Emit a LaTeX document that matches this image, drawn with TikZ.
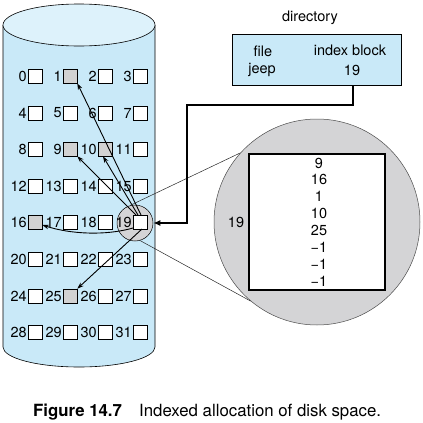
\documentclass[tikz,border=0pt]{standalone}
\usepackage{fontspec}
\setmainfont{TeX Gyre Heros}
\usetikzlibrary{arrows.meta}
\definecolor{cylblue}{HTML}{C9E9F8}
\definecolor{topblue}{HTML}{DDF2FB}
\definecolor{blkgray}{HTML}{D2D2D2}
\definecolor{circgray}{HTML}{D4D4D6}
\begin{document}
\begin{tikzpicture}[x=1pt,y=-1pt,
  font=\fontsize{14.5}{17}\selectfont,
  blk/.style={draw, line width=0.6pt, minimum size=14pt, inner sep=0pt},
  lbl/.style={inner sep=0.8pt, anchor=east},
  txt/.style={inner sep=0pt},
  ptr/.style={-{Stealth[length=6.5pt,width=4.5pt]}, line width=0.9pt},
  zoomline/.style={line width=0.5pt, draw=black!85}]
\useasboundingbox (0,0) rectangle (423,423);
% cylinder
\fill[cylblue] (3,25) -- (3,347) arc[start angle=180,end angle=0,x radius=76,y radius=20] -- (155,25) -- cycle;
\draw[line width=0.6pt] (3,25) -- (3,347) arc[start angle=180,end angle=0,x radius=76,y radius=20] -- (155,25);
\draw[line width=0.6pt, fill=topblue] (79,25) ellipse[x radius=76, y radius=21];
% small circle
\node[circle, draw, line width=0.5pt, fill=circgray, minimum size=36pt, inner sep=0pt] (sc) at (135,223) {};
% blocks
\foreach \r/\y in {0/76,1/113,2/149,3/186,4/222,5/259,6/296,7/332}{
  \foreach \c/\x in {0/35,1/70,2/105,3/140}{
    \pgfmathtruncatemacro\n{4*\r+\c}
    \pgfmathtruncatemacro\isg{(\n==1)||(\n==9)||(\n==10)||(\n==16)||(\n==25)}
    \ifnum\isg=1 \def\bfill{blkgray}\else\def\bfill{white}\fi
    \node[blk, fill=\bfill] (b\n) at (\x,\y) {};
    \node[lbl] (l\n) at (b\n.west) {\n};
  }
}
% pointers from block 19
\draw[ptr] (141,215) -- (b1.south east);
\draw[ptr] (136,215) -- (b9.south east);
\draw[ptr] (138,215) -- ([xshift=-2pt]b10.south);
\draw[ptr] (133,228) .. controls (105,236) and (70,234) .. ([yshift=-3pt]b16.east);
\draw[ptr] (142,229) -- (b25.north east);
% big circle
\node[circle, draw, line width=0.5pt, draw=black!70, fill=circgray, minimum size=206pt, inner sep=0pt] (bc) at (317,222) {};
% zoom lines
\draw[zoomline] (sc.106) -- (bc.138);
\draw[zoomline] (sc.286) -- (bc.230);
\node[draw, line width=2pt, fill=white, minimum width=136pt, minimum height=136pt, inner sep=0pt] (ib) at (317,222) {};
\foreach \v [count=\i from 0] in {9,16,1,10,25,−1,−1,−1}{
  \node[txt] (iv\i) at (319,{163+16.9*\i}) {\v};
}
\node[txt] (ibl) at (236,222) {19};
% directory
\node[txt] (dirlbl) at (310,18) {directory};
\node[draw, line width=1.5pt, fill=cylblue, minimum width=169pt, minimum height=51pt, inner sep=0pt] (dir) at (317,60) {};
\node[txt] (dfile) at (263,51) {file};
\node[txt] (djeep) at (262,70) {jeep};
\node[txt] (dindex) at (350,50) {index block};
\node[txt] (d19) at (352,70) {19};
\coordinate (c1) at (353,105);
\coordinate (c2) at (187,105);
\draw[line width=1.6pt, -{Latex[length=7pt,width=6pt]}] (dir.south -| c1) -- (c1) -- (c2) |- (sc.east);
% caption
\node[anchor=base west, inner sep=0pt, font=\fontsize{16.8}{19}\selectfont\bfseries] (capnum) at (33,416) {Figure 14.7};
\node[anchor=base west, inner sep=0pt, font=\fontsize{16.8}{19}\selectfont] (captxt) at (139,416) {Indexed allocation of disk space.};
\end{tikzpicture}
\end{document}
